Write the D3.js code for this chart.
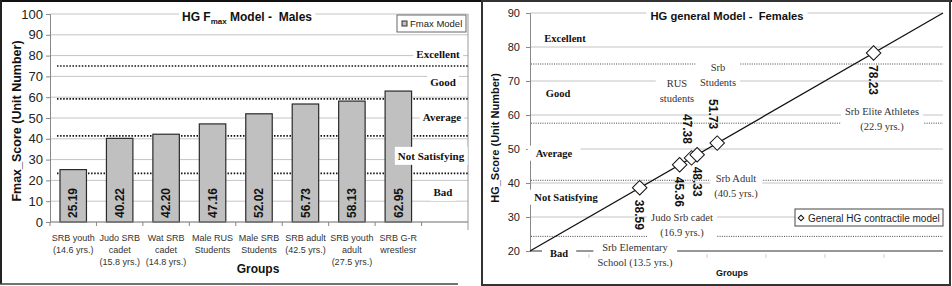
<!DOCTYPE html>
<html><head><meta charset="utf-8">
<script src="https://cdn.jsdelivr.net/npm/d3@7"></script>
<style>html,body{margin:0;padding:0;background:#fff;} svg{display:block}</style>
</head><body>
<svg id="c" width="952" height="286"></svg>
<script>
// ---------------- DATA ----------------
const maleCategories = [
  ["SRB youth", "(14.6 yrs.)"],
  ["Judo SRB", "cadet", "(15.8 yrs.)"],
  ["Wat SRB", "cadet", "(14.8 yrs.)"],
  ["Male RUS", "Students"],
  ["Male SRB", "Students"],
  ["SRB adult", "(42.5 yrs.)"],
  ["SRB youth", "adult", "(27.5 yrs.)"],
  ["SRB G-R", "wrestlesr"]
];
const maleValues = [25.19, 40.22, 42.20, 47.16, 52.02, 56.73, 58.13, 62.95];
const maleYTicks = [0, 10, 20, 30, 40, 50, 60, 70, 80, 90, 100];
const maleThresholds = [75, 59.2, 41.4, 23.4];
const ratingLabels = ["Excellent", "Good", "Average", "Not Satisfying", "Bad"];

const femaleValues = [38.59, 45.36, 47.38, 48.33, 51.73, 78.23];
const femaleLabelSide = ["below", "below", "above", "below", "above", "below"];
const femaleGroups = [
  ["RUS", "students"],
  ["Srb", "Students"],
  ["Srb Elite Athletes", "(22.9 yrs.)"],
  ["Srb Adult", "(40.5 yrs.)"],
  ["Judo Srb cadet", "(16.9 yrs.)"],
  ["Srb Elementary", "School (13.5 yrs.)"]
];
const femaleYTicks = [20, 30, 40, 50, 60, 70, 80, 90];
const femaleThresholds = [75, 57.6, 40.8, 24.3];
const modelLine = [20, 90];
const femaleXBands = 7;

// ---------------- DRAW ----------------
const SANS = "'Liberation Sans', Arial, Helvetica, sans-serif";
const SERIF = "'Liberation Serif', 'Times New Roman', serif";
const svg = d3.select("#c");

function boxedText(g, lines, cx, cy, o) {
  const grp = g.append("g");
  const rect = grp.append("rect").attr("fill", "#fff");
  const t = grp.append("text")
    .attr("text-anchor", "middle")
    .style("font-family", o.family).style("font-size", o.size + "px")
    .style("font-weight", o.weight || "normal").attr("fill", o.color || "#111");
  const lh = o.lh || o.size * 1.4;
  lines.forEach((l, i) => {
    t.append("tspan").attr("x", cx)
      .attr("y", cy + (i - (lines.length - 1) / 2) * lh)
      .attr("dy", "0.35em").text(l);
  });
  const bb = t.node().getBBox();
  const px = o.padX == null ? 3 : o.padX, py = o.padY == null ? 1 : o.padY;
  rect.attr("x", bb.x - px).attr("y", bb.y - py)
    .attr("width", bb.width + 2 * px).attr("height", bb.height + 2 * py);
  return grp;
}

// frames
svg.append("line").attr("x1", 0).attr("x2", 952).attr("y1", 1).attr("y2", 1)
  .attr("stroke", "#111").attr("stroke-width", 2);
svg.append("line").attr("x1", 1).attr("x2", 1).attr("y1", 0).attr("y2", 284)
  .attr("stroke", "#222").attr("stroke-width", 2);
svg.append("line").attr("x1", 0).attr("x2", 458).attr("y1", 284).attr("y2", 284)
  .attr("stroke", "#444").attr("stroke-width", 1.5);
svg.append("rect").attr("x", 482).attr("y", 1).attr("width", 468).attr("height", 284)
  .attr("fill", "none").attr("stroke", "#333").attr("stroke-width", 2);

// ======== LEFT CHART ========
(function () {
  const g = svg.append("g");
  const X0 = 50, X1 = 468, Y0 = 222, Y1 = 14;
  const y = d3.scaleLinear().domain([0, 100]).range([Y0, Y1]);
  const x = d3.scaleBand().domain(d3.range(maleValues.length + 1)).range([X0, X1]);
  const bw = x.bandwidth();

  // gridlines
  g.selectAll(".grid").data(maleYTicks).join("line")
    .attr("x1", X0).attr("x2", X1).attr("y1", d => y(d)).attr("y2", d => y(d))
    .attr("stroke", "#c4c4c4").attr("stroke-width", 1);
  // right border
  g.append("line").attr("x1", X1).attr("x2", X1).attr("y1", Y1).attr("y2", Y0 + 8)
    .attr("stroke", "#999");
  // thresholds
  g.selectAll(".thr").data(maleThresholds).join("line")
    .attr("x1", X0 + 7).attr("x2", X1).attr("y1", d => y(d)).attr("y2", d => y(d))
    .attr("stroke", "#111").attr("stroke-width", 1.6).attr("stroke-dasharray", "1.5,1.6");

  // bars
  g.selectAll(".bar").data(maleValues).join("rect")
    .attr("x", (d, i) => x(i) + bw * 0.215).attr("width", bw * 0.57)
    .attr("y", d => y(d)).attr("height", d => y(0) - y(d))
    .attr("fill", "#c0c0c0").attr("stroke", "#2a2a2a").attr("stroke-width", 1.2);

  // value labels
  g.selectAll(".val").data(maleValues).join("text")
    .attr("transform", (d, i) => `translate(${x(i) + bw / 2},${y(0) - 4}) rotate(-90)`)
    .attr("text-anchor", "start").attr("dy", "0.35em")
    .style("font-family", SANS).style("font-size", "12px").style("font-weight", "bold")
    .attr("fill", "#111").text(d => d.toFixed(2));

  // y axis
  const ya = g.append("g").attr("transform", `translate(${X0},0)`)
    .call(d3.axisLeft(y).tickValues(maleYTicks).tickSize(4).tickPadding(3).tickFormat(d3.format("d")));
  ya.select(".domain").attr("stroke", "#888");
  ya.selectAll(".tick line").attr("stroke", "#888");
  ya.selectAll("text").style("font-family", SANS).style("font-size", "13px").attr("fill", "#222");

  // x axis
  g.append("line").attr("x1", X0).attr("x2", X1).attr("y1", Y0).attr("y2", Y0).attr("stroke", "#888");
  g.selectAll(".xt").data(d3.range(maleValues.length + 1)).join("line")
    .attr("x1", d => x(d)).attr("x2", d => x(d)).attr("y1", Y0).attr("y2", Y0 + 4).attr("stroke", "#888");
  maleCategories.forEach((lines, i) => {
    const t = g.append("text").attr("text-anchor", "middle")
      .style("font-family", SANS).style("font-size", "9px").attr("fill", "#333");
    lines.forEach((l, j) => t.append("tspan").attr("x", x(i) + bw / 2).attr("y", 240.5 + j * 12).text(l));
  });

  // rating labels
  const rPos = [[438, 54], [443, 82], [442, 117], [431, 156], [443, 192]];
  ratingLabels.forEach((r, i) => boxedText(g, [r], rPos[i][0], rPos[i][1],
    { family: SERIF, size: 11, weight: "bold", padX: 3, padY: 3 }));

  // title
  const tg = g.append("g");
  const tr = tg.append("rect").attr("fill", "#fff");
  const tt = tg.append("text").attr("x", 247).attr("y", 21).attr("text-anchor", "middle")
    .style("font-family", SANS).style("font-size", "12px").style("font-weight", "bold").attr("fill", "#111");
  tt.append("tspan").text("HG F");
  tt.append("tspan").attr("dy", 3).style("font-size", "8px").text("max");
  tt.append("tspan").attr("dy", -3).text(" Model -\u00a0 Males");
  const tb = tt.node().getBBox();
  tr.attr("x", tb.x - 3).attr("y", tb.y - 2).attr("width", tb.width + 6).attr("height", tb.height + 2);

  // legend
  g.append("rect").attr("x", 397).attr("y", 15).attr("width", 69).attr("height", 17)
    .attr("fill", "#fff").attr("stroke", "#666");
  g.append("rect").attr("x", 402).attr("y", 21).attr("width", 5).attr("height", 5)
    .attr("fill", "#c0c0c0").attr("stroke", "#333");
  g.append("text").attr("x", 410).attr("y", 27).style("font-family", SANS).style("font-size", "9.5px")
    .attr("fill", "#222").text("Fmax Model");

  // axis titles
  g.append("text").attr("transform", "translate(17,121) rotate(-90)").attr("text-anchor", "middle")
    .attr("dy", "0.35em").style("font-family", SANS).style("font-size", "12.5px").style("font-weight", "bold")
    .attr("fill", "#111").text("Fmax_Score (Unit Number)");
  g.append("text").attr("x", 258).attr("y", 273).attr("text-anchor", "middle")
    .style("font-family", SANS).style("font-size", "12px").style("font-weight", "bold")
    .attr("fill", "#111").text("Groups");
})();

// ======== RIGHT CHART ========
(function () {
  const g = svg.append("g");
  const X0 = 530, X1 = 943, Y0 = 251, Y1 = 13;
  const y = d3.scaleLinear().domain([20, 90]).range([Y0, Y1]);
  const x = d3.scaleLinear().domain([20, 90]).range([X0, X1]);
  const band = d3.scaleBand().domain(d3.range(femaleXBands)).range([X0, X1]);

  // gridlines
  g.selectAll(".grid").data(femaleYTicks.slice(1)).join("line")
    .attr("x1", X0).attr("x2", X1).attr("y1", d => y(d)).attr("y2", d => y(d))
    .attr("stroke", "#c4c4c4");
  // thresholds
  g.selectAll(".thr").data(femaleThresholds).join("line")
    .attr("x1", X0 + 1).attr("x2", X1).attr("y1", d => y(d)).attr("y2", d => y(d))
    .attr("stroke", "#444").attr("stroke-width", 1).attr("stroke-dasharray", "1,1.3");
  // x axis
  g.append("line").attr("x1", X0).attr("x2", X1).attr("y1", Y0).attr("y2", Y0)
    .attr("stroke", "#333").attr("stroke-width", 1.2);
  g.selectAll(".xt").data(d3.range(1, femaleXBands)).join("line")
    .attr("x1", d => band(d)).attr("x2", d => band(d)).attr("y1", Y0 + 3).attr("y2", Y0 + 7)
    .attr("stroke", "#ccc");

  // y axis
  const ya = g.append("g").attr("transform", `translate(${X0},0)`)
    .call(d3.axisLeft(y).tickValues(femaleYTicks).tickSize(4).tickPadding(6).tickFormat(d3.format("d")));
  ya.select(".domain").attr("stroke", "#888");
  ya.selectAll(".tick line").attr("stroke", "#888");
  ya.selectAll("text").style("font-family", SANS).style("font-size", "11px").attr("fill", "#222");

  // group annotations
  const gPos = [[677, 90.5], [718, 74.5], [882, 118.5], [736, 185.5], [682, 224.5], [635, 254.5]];
  femaleGroups.forEach((lines, i) => boxedText(g, lines, gPos[i][0], gPos[i][1],
    { family: SERIF, size: 10.5, color: "#333", lh: 15, padX: 4, padY: 1 }));

  // rating labels
  const rPos = [[565, 38], [558, 93], [554, 153], [566, 197], [559, 253]];
  ratingLabels.forEach((r, i) => boxedText(g, [r], rPos[i][0], rPos[i][1],
    { family: SERIF, size: 10.5, weight: "bold", padX: 8, padY: 2 }));

  // model line
  g.append("line").attr("x1", x(modelLine[0])).attr("y1", y(modelLine[0]))
    .attr("x2", x(modelLine[1])).attr("y2", y(modelLine[1]))
    .attr("stroke", "#111").attr("stroke-width", 1.3);

  // points
  g.selectAll(".pt").data(femaleValues).join("path")
    .attr("d", d3.symbol(d3.symbolSquare, 105))
    .attr("transform", d => `translate(${x(d)},${y(d)}) rotate(45)`)
    .attr("fill", "#fff").attr("stroke", "#111").attr("stroke-width", 1);

  // value labels
  g.selectAll(".val").data(femaleValues).join("text")
    .attr("transform", (d, i) => femaleLabelSide[i] === "below"
      ? `translate(${x(d)},${y(d) + 12}) rotate(90)`
      : `translate(${x(d) - 4},${y(d) - 14}) rotate(90)`)
    .attr("text-anchor", (d, i) => femaleLabelSide[i] === "below" ? "start" : "end")
    .attr("dy", "0.35em")
    .style("font-family", SANS).style("font-size", "12px").style("font-weight", "bold")
    .attr("fill", "#111").text(d => d.toFixed(2));

  // title
  boxedText(g, ["HG general Model -\u00a0 Females"], 727, 16,
    { family: SANS, size: 11.2, weight: "bold", padX: 4, padY: 2 });

  // legend
  g.append("rect").attr("x", 795).attr("y", 209).attr("width", 148).attr("height", 17)
    .attr("fill", "#fff").attr("stroke", "#444");
  g.append("path").attr("d", d3.symbol(d3.symbolSquare, 16))
    .attr("transform", "translate(801,218) rotate(45)").attr("fill", "#fff").attr("stroke", "#111");
  g.append("text").attr("x", 808).attr("y", 221.5).style("font-family", SANS).style("font-size", "10px")
    .attr("fill", "#222").text("General HG contractile model");

  // axis titles
  g.append("text").attr("transform", "translate(495,138) rotate(-90)").attr("text-anchor", "middle")
    .attr("dy", "0.35em").style("font-family", SANS).style("font-size", "11px").style("font-weight", "bold")
    .attr("fill", "#111").text("HG_Score (Unit Number)");
  g.append("text").attr("x", 732).attr("y", 276).attr("text-anchor", "middle")
    .style("font-family", SANS).style("font-size", "9px").style("font-weight", "bold")
    .attr("fill", "#111").text("Groups");
})();
</script>
</body></html>
